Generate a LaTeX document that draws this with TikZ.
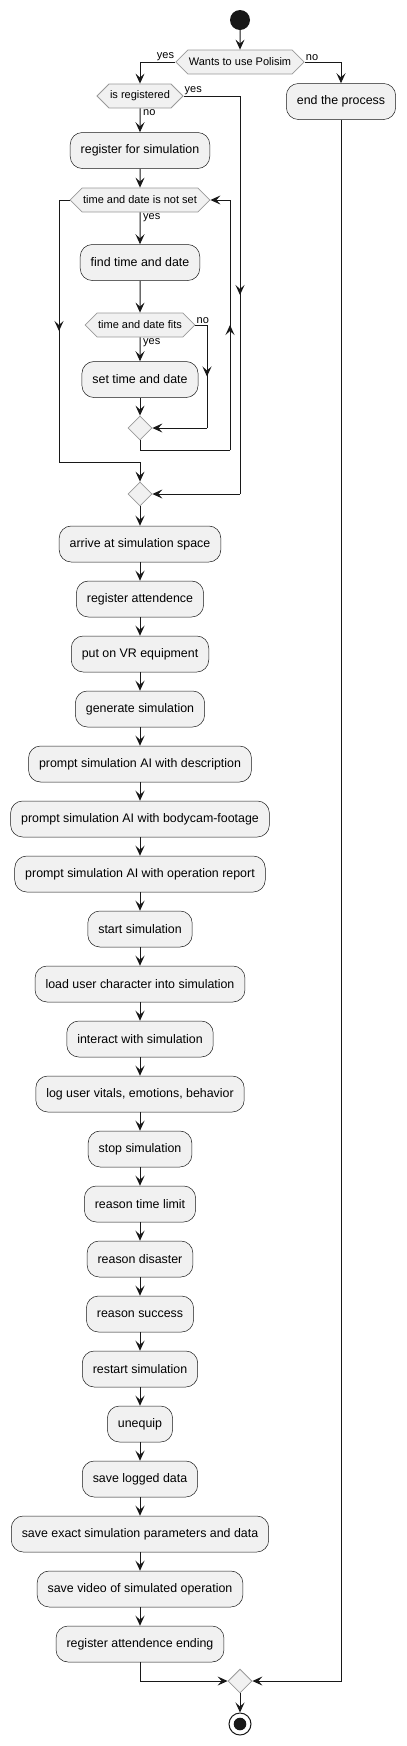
\documentclass[tikz,border=0pt]{standalone}
\usepackage{fontspec}
\setmainfont{Liberation Sans}
\usetikzlibrary{arrows.meta,shapes.symbols,shapes.geometric,decorations.markings}

\definecolor{actfill}{HTML}{F1F1F1}
\definecolor{linecol}{HTML}{181818}
\definecolor{hexline}{HTML}{999999}

\tikzset{
  >={Stealth[length=10pt,width=9pt,inset=4pt]},
  line/.style={draw=linecol,line width=1pt},
  flow/.style={line,->},
  midarrow/.style={postaction={decorate},decoration={markings,
      mark=at position 0.5 with {\arrow{Stealth[length=10pt,width=9pt,inset=4pt]}}}},
  act/.style={rectangle,rounded corners=12pt,draw=linecol,line width=0.5pt,fill=actfill,
      minimum height=36pt,inner xsep=10.5pt,font=\fontsize{12.4}{14}\selectfont},
  cond/.style={signal,signal to=east and west,signal pointer angle=90,draw=hexline,
      line width=0.8pt,fill=actfill,minimum height=24pt,inner xsep=1pt,inner ysep=0pt,
      font=\fontsize{11}{13}\selectfont},
  merge/.style={diamond,draw=hexline,line width=0.8pt,fill=actfill,minimum size=24pt,inner sep=0pt},
  lbl/.style={inner sep=1pt,font=\fontsize{11}{13}\selectfont}
}

\begin{document}
\begin{tikzpicture}[x=1pt,y=-1pt]
  \useasboundingbox (0,0) rectangle (407,1746);

  \node[circle,fill=linecol,minimum size=20pt,inner sep=0pt] (start) at (240,20) {};
  \node[cond] (usepolisim) at (240,62) {Wants to use Polisim};
  \node[act] (endproc) at (341,101.5) {end the process};
  \node[cond] (isreg) at (140,96) {is registered};
  \node[act] (regsim) at (140,150.5) {register for simulation};
  \node[cond] (notset) at (140,200) {time and date is not set};
  \node[act] (findtd) at (140,262.5) {find time and date};
  \node[cond] (fits) at (140,325) {time and date fits};
  \node[act] (settd) at (140,379.5) {set time and date};
  \node[merge] (mergefits) at (140,428) {};
  \node[merge] (mergereg) at (140,494) {};

  % main sequence
  \foreach \nm/\txt [count=\i from 0, remember=\nm as \last (initially mergereg)] in {
      arrive/arrive at simulation space,
      regatt/register attendence,
      vrequip/put on VR equipment,
      gensim/generate simulation,
      promptdesc/prompt simulation AI with description,
      promptcam/prompt simulation AI with bodycam-footage,
      promptrep/prompt simulation AI with operation report,
      startsim/start simulation,
      loadchar/load user character into simulation,
      interact/interact with simulation,
      logvitals/{log user vitals, emotions, behavior},
      stopsim/stop simulation,
      rtime/reason time limit,
      rdisaster/reason disaster,
      rsuccess/reason success,
      restart/restart simulation,
      unequip/unequip,
      savelog/save logged data,
      saveparams/save exact simulation parameters and data,
      savevideo/save video of simulated operation,
      regend/register attendence ending} {
    \node[act] (\nm) at (140,544+55*\i) {\txt};
    \draw[flow] (\last) -- (\nm);
  }

  \node[merge] (mergeend) at (240,1681) {};
  \node[circle,draw=linecol,line width=1pt,fill=white,minimum size=22pt,inner sep=0pt] (stop) at (240,1724) {};
  \node[circle,fill=linecol,minimum size=12.6pt,inner sep=0pt] (stopdot) at (stop) {};

  % wants to use
  \draw[flow] (start) -- (usepolisim);
  \draw[flow] (usepolisim.west) -| (isreg.north);
  \node[lbl,anchor=south east] (yesuse) at (usepolisim.west) {yes};
  \draw[flow] (usepolisim.east) -| (endproc.north);
  \node[lbl,anchor=south west] (nouse) at (usepolisim.east) {no};

  % is registered
  \coordinate (regturn) at (240,96);
  \coordinate (regbend) at (240,494);
  \draw[line] (isreg.east) -- (regturn);
  \draw[line,midarrow] (regturn) -- (regbend);
  \draw[flow] (regbend) -- (mergereg.east);
  \node[lbl,anchor=south west] (yesreg) at (isreg.east) {yes};
  \draw[flow] (isreg) -- (regsim);
  \node[lbl,anchor=north west,xshift=2pt] (noreg) at (isreg.south) {no};
  \draw[flow] (regsim) -- (notset);

  % while time and date is not set
  \draw[flow] (notset) -- (findtd);
  \node[lbl,anchor=north west,xshift=2pt] (yesset) at (notset.south) {yes};
  \draw[flow] (findtd) -- (fits);
  \draw[flow] (fits) -- (settd);
  \node[lbl,anchor=north west,xshift=2pt] (yesfits) at (fits.south) {yes};
  \coordinate (fitsturn) at (207,325);
  \coordinate (fitsbend) at (207,428);
  \draw[line] (fits.east) -- (fitsturn);
  \draw[line,midarrow] (fitsturn) -- (fitsbend);
  \draw[flow] (fitsbend) -- (mergefits.east);
  \node[lbl,anchor=south west] (nofits) at (fits.east) {no};
  \draw[flow] (settd) -- (mergefits);

  % loop back
  \coordinate (loopa) at (140,450);
  \coordinate (loopb) at (230,450);
  \coordinate (loopc) at (230,200);
  \draw[line] (mergefits.south) -- (loopa) -- (loopb);
  \draw[line,midarrow] (loopb) -- (loopc);
  \draw[flow] (loopc) -- (notset.east);

  % leave loop
  \coordinate (exita) at (59,200);
  \coordinate (exitb) at (59,462);
  \coordinate (exitc) at (140,462);
  \draw[line] (notset.west) -- (exita);
  \draw[line,midarrow] (exita) -- (exitb);
  \draw[flow] (exitb) -- (exitc) -- (mergereg.north);

  % end
  \draw[flow] (regend.south) |- (mergeend.west);
  \draw[flow] (endproc.south) |- (mergeend.east);
  \draw[flow] (mergeend) -- (stop);
\end{tikzpicture}
\end{document}
